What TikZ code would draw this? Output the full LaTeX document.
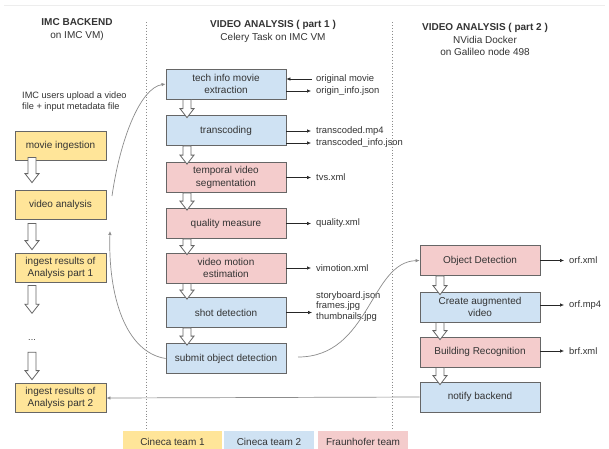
\documentclass[tikz,border=0pt]{standalone}
\usepackage{fontspec}
\setmainfont{Liberation Sans}
\usetikzlibrary{arrows.meta,calc}

\definecolor{cinecaone}{HTML}{FFE599}
\definecolor{cinecatwo}{HTML}{CFE2F3}
\definecolor{fraunhofer}{HTML}{F4CCCC}
\definecolor{boxborder}{HTML}{666666}
\definecolor{textgray}{HTML}{333333}
\definecolor{curvegray}{HTML}{8C8C8C}

\begin{document}
\begin{tikzpicture}
[x=1pt,y=-1pt,
  boxdecorate/.style={shape=rectangle,draw=boxborder,line width=0.8pt,
    align=center,inner sep=1pt,text=textgray,font=\fontsize{10}{12.5}\selectfont},
  yellowbox/.style={boxdecorate,fill=cinecaone,minimum width=91pt,minimum height=29pt},
  bluebox/.style={boxdecorate,fill=cinecatwo,minimum width=120pt,minimum height=30pt},
  pinkbox/.style={boxdecorate,fill=fraunhofer,minimum width=120pt,minimum height=30pt},
  legendbox/.style={shape=rectangle,minimum height=22pt,inner sep=0pt,
    text=textgray,font=\fontsize{10}{12}\selectfont},
  headdecorate/.style={align=center,text=textgray,font=\fontsize{10}{12.5}\selectfont},
  outlabel/.style={anchor=west,inner sep=0pt,align=left,text=textgray,
    font=\fontsize{9.4}{10.5}\selectfont},
  outarrow/.style={-{Latex[length=4pt,width=3.5pt]},line width=0.6pt,black!85},
  curvearrow/.style={-{Latex[length=4pt,width=3.5pt]},line width=0.7pt,curvegray},
  hollowarrow/.style={draw=boxborder,fill=white,line width=0.8pt,line join=miter},
  sepline/.style={dotted,line width=0.9pt,curvegray}]
\fill[white] (0,0) rectangle (609,448);
\useasboundingbox (0,0) rectangle (609,448);
\draw[black!7,line width=0.6pt] (4,5) -- (605,5);
%% column headers
\node (headA) at (77,29.5) [headdecorate] {\textbf{IMC BACKEND}\\on IMC VM)};
\node (headB) at (273,31.5) [headdecorate] {\textbf{VIDEO ANALYSIS ( part 1 )}\\Celery Task on IMC VM};
\node (headC) at (485,39.5) [headdecorate] {\textbf{VIDEO ANALYSIS ( part 2 )}\\NVidia Docker\\on Galileo node 498};
\node (upload) at (22,101.5) [outlabel,font=\fontsize{9.2}{11}\selectfont]
  {IMC users upload a video\\file + input metadata file};
%% separators
\draw[sepline] (146,22) -- (146,430);
\draw[sepline] (392,22) -- (392,430);
%% boxes
\foreach \nodename/\x/\y/\kind/\boxtext in {
  ingest/60.5/146/yellowbox/movie ingestion,
  analysis/60.5/205/yellowbox/video analysis,
  resultsA/60.5/268/yellowbox/ingest results of\\Analysis part 1,
  resultsB/60.5/398/yellowbox/ingest results of\\Analysis part 2,
  techinfo/226/84/bluebox/tech info movie\\extraction,
  transcode/226/130.5/bluebox/transcoding,
  tvs/226/177.5/pinkbox/temporal video\\segmentation,
  quality/226/223.5/pinkbox/quality measure,
  motion/226/268/pinkbox/video motion\\estimation,
  shot/226/312.5/bluebox/shot detection,
  submit/226/358.5/bluebox/submit object detection,
  objdet/480/260.5/pinkbox/Object Detection,
  augment/480/307/bluebox/Create augmented\\video,
  building/480/352/pinkbox/Building Recognition,
  notify/480/397/bluebox/notify backend} {
  \node (\nodename) at (\x,\y) [\kind] {\boxtext};
}
\node (dots) at (32,340) [inner sep=0pt,text=textgray,font=\fontsize{9}{10}\selectfont] {...};
%% hollow arrows
\foreach \from/\to/\ax/\s/\e in {
  ingest/analysis/32/3.5/-7.5, analysis/resultsA/32/-3.5/-3.5,
  resultsA/dots/32/-2.5/-26, dots/resultsB/32/-11.5/-3.5,
  techinfo/transcode/187/0/2.5, transcode/tvs/187/0/2,
  tvs/quality/187/0/2, quality/motion/187/0/2,
  motion/shot/187/0/2, shot/submit/187/0/2,
  objdet/augment/440/0/3, augment/building/440/0/3,
  building/notify/440/0/3} {
  \draw[hollowarrow] let \p1=(\from.south), \p2=(\to.north) in
    (\ax pt-4pt,\y1+\s pt) -- (\ax pt-4pt,\y2-\e pt+9pt)
    -- (\ax pt-7pt,\y2-\e pt+9pt) -- (\ax pt,\y2-\e pt)
    -- (\ax pt+7pt,\y2-\e pt+9pt) -- (\ax pt+4pt,\y2-\e pt+9pt)
    -- (\ax pt+4pt,\y1+\s pt) -- cycle;
}
%% produced files
\node (orig) at (316,79) [outlabel] {original movie};
\node (originfo) at (316,91) [outlabel] {origin\_info.json};
\node (tmp4) at (316,131) [outlabel] {transcoded.mp4};
\node (tinfo) at (316,143) [outlabel] {transcoded\_info.json};
\node (tvsout) at (316,177.5) [outlabel] {tvs.xml};
\node (qout) at (316,223.5) [outlabel] {quality.xml};
\node (vout) at (316,268) [outlabel] {vimotion.xml};
\node (shotout) at (316,306.5) [outlabel] {storyboard.json\\frames.jpg\\thumbnails.jpg};
\node (orfout) at (569,260.5) [outlabel] {orf.xml};
\node (mp4out) at (569,305) [outlabel] {orf.mp4};
\node (brfout) at (569,351) [outlabel] {brf.xml};
\draw[outarrow,shorten <=4pt] (orig.west) -- (orig.west -| techinfo.east);
\path
\foreach \startnode/\endnode in {techinfo/originfo, transcode/tmp4,
  transcode/tinfo, tvs/tvsout, quality/qout, motion/vout,
  objdet/orfout, augment/mp4out, building/brfout} {
  (\endnode.west -| \startnode.east) edge[outarrow,shorten >=5pt] (\endnode.west)
};
\draw[outarrow,shorten >=4pt] (shot.east) -- (shot.east -| shotout.west);
%% links between the parts
\coordinate (upstart) at (112,196);
\coordinate (backend) at (110,231);
\coordinate (rightstart) at (298,357);
\draw[curvearrow] (upstart) .. controls (120,140) and (140,88) .. (techinfo.west);
\draw[curvearrow] (submit.west) .. controls (125,352) and (108,295) .. (backend);
\draw[curvearrow] (rightstart) .. controls (370,357) and (370,262) .. (objdet.west);
\draw[curvearrow] (notify.west) -- (resultsB.east);
%% legend
\node (legA) at (172.5,442) [legendbox,fill=cinecaone,minimum width=99pt] {Cineca team 1};
\node (legB) at (269,442) [legendbox,fill=cinecatwo,minimum width=90pt] {Cineca team 2};
\node (legC) at (363,442) [legendbox,fill=fraunhofer,minimum width=90pt] {Fraunhofer team};
\end{tikzpicture}
\end{document}
